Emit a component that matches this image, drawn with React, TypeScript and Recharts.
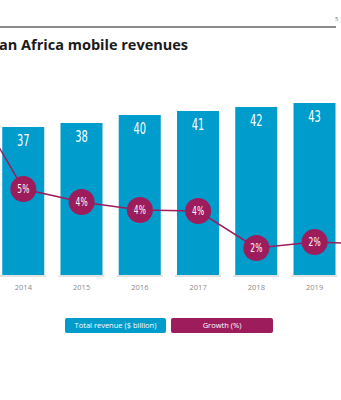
import { ComposedChart, Bar, Line, XAxis, YAxis, LabelList } from 'recharts';

const years = ['2013', '2014', '2015', '2016', '2017', '2018', '2019', '2020'];
const revenue = [35, 37, 38, 40, 41, 42, 43, 44];
const growth = [9.8, 4.8, 4.15, 3.75, 3.7, 1.85, 2.15, 2.05];

const BLUE = '#009ccc';
const PLUM = '#9c1c5c';
const SANS = "'Open Sans', sans-serif";

const data = years.map((year, i) => ({ year, revenue: revenue[i], growth: growth[i] }));
const last = years.length - 1;

// first and last categories sit outside the visible crop
const visible = (i: number) => i > 0 && i < last;

function BarWithBase(props: any) {
  const { x, y, width, height } = props;
  return (
    <g>
      <rect x={x} y={y} width={width} height={height} fill={BLUE} />
      <line x1={x - 2} x2={x + width + 2} y1={y + height + 1} y2={y + height + 1} stroke="#c4c4c4" strokeWidth={1} />
    </g>
  );
}

function GrowthDot(props: any) {
  const { cx, cy } = props;
  if (cx == null || cy == null) return null;
  return <circle cx={cx} cy={cy} r={13} fill={PLUM} />;
}

function NarrowText({ x, y, text, size }: { x: number; y: number; text: string; size: number }) {
  return (
    <text
      transform={`translate(${x},${y}) scale(0.66,1)`}
      textAnchor="middle"
      dominantBaseline="central"
      fill="#fff"
      fontSize={size}
      fontFamily="'DejaVu Sans', sans-serif"
    >
      {text}
    </text>
  );
}

function RevenueLabel(props: any) {
  const { x, y, width, value, index } = props;
  if (!visible(index)) return null;
  return <NarrowText x={x + width / 2} y={y + 14} text={String(value)} size={15} />;
}

function GrowthLabel(props: any) {
  const { x, y, value, index } = props;
  if (!visible(index)) return null;
  return <NarrowText x={x} y={y} text={`${Math.round(Number(value))}%`} size={11.5} />;
}

function YearTick(props: any) {
  const { x, y, payload, index } = props;
  if (!visible(index)) return null;
  return (
    <text x={x} y={y + 7} textAnchor="middle" fontSize={7.5} fill="#8a8a8a" fontFamily={SANS}>
      {payload.value}
    </text>
  );
}

export default function App() {
  return (
    <div style={{ position: 'absolute', left: 0, top: 0, width: 341, height: 400, overflow: 'hidden', background: '#fff', fontFamily: SANS }}>
      <div style={{ position: 'absolute', left: 0, top: 26, width: 336, height: 1.5, background: '#8a8a8a' }} />
      <div style={{ position: 'absolute', left: 335, top: 15, fontSize: 6, color: '#777' }}>5</div>
      <div style={{ position: 'absolute', left: -1, top: 35, fontSize: 14.5, fontWeight: 700, color: '#1a1a1a', whiteSpace: 'nowrap' }}>
        an Africa mobile revenues
      </div>

      <div style={{ position: 'absolute', left: -64, top: 75 }}>
        <ComposedChart width={466} height={220} data={data} margin={{ top: 0, right: 0, bottom: 0, left: 0 }}>
          <XAxis dataKey="year" axisLine={false} tickLine={false} height={20} interval={0} tick={<YearTick />} />
          <YAxis yAxisId="rev" hide domain={[0, 50]} />
          <YAxis yAxisId="g" hide domain={[0.5, 10.5]} allowDataOverflow />
          <Bar yAxisId="rev" dataKey="revenue" barSize={42} shape={<BarWithBase />} isAnimationActive={false}>
            <LabelList dataKey="revenue" content={<RevenueLabel />} />
          </Bar>
          <Line
            yAxisId="g"
            dataKey="growth"
            stroke={PLUM}
            strokeWidth={1.5}
            dot={<GrowthDot />}
            activeDot={false}
            isAnimationActive={false}
          >
            <LabelList dataKey="growth" content={<GrowthLabel />} />
          </Line>
        </ComposedChart>
      </div>

      <div style={{ position: 'absolute', left: 65, top: 318, width: 101, height: 15, background: BLUE, borderRadius: 2, color: '#fff', fontSize: 7.5, lineHeight: '15px', textAlign: 'center' }}>
        Total revenue ($ billion)
      </div>
      <div style={{ position: 'absolute', left: 171, top: 318, width: 102, height: 15, background: PLUM, borderRadius: 2, color: '#fff', fontSize: 7.5, lineHeight: '15px', textAlign: 'center' }}>
        Growth (%)
      </div>
    </div>
  );
}
